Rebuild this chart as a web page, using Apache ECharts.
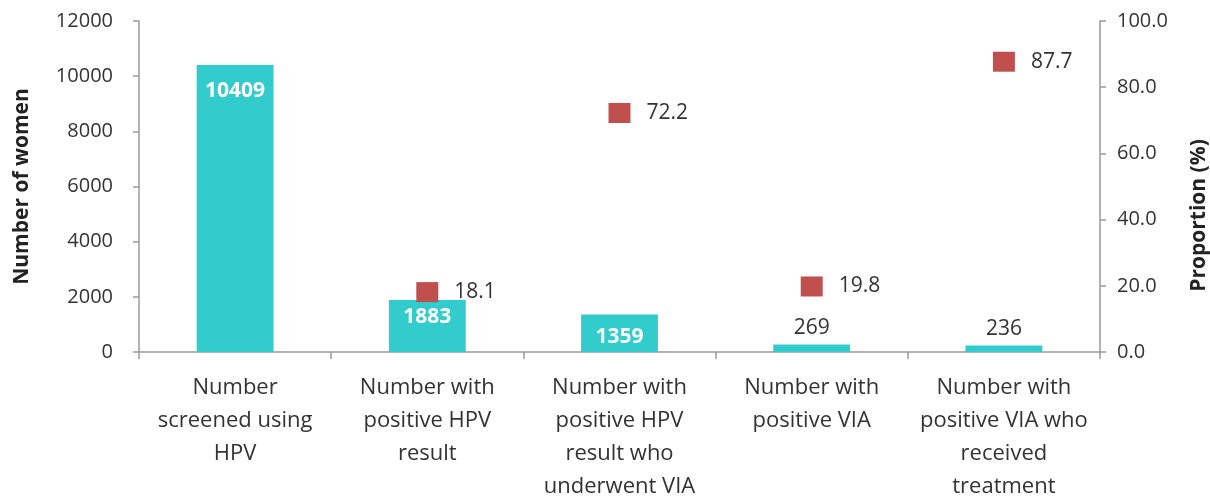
<!DOCTYPE html>
<html>
<head>
<meta charset="utf-8">
<script src="https://cdn.jsdelivr.net/npm/echarts@6/dist/echarts.min.js"></script>
<style>
  html, body { margin: 0; padding: 0; background: #fff; }
  #chart { width: 1210px; height: 499px; }
</style>
</head>
<body>
<div id="chart"></div>
<script>
// 类目
const categories = [
  'Number\nscreened using\nHPV',
  'Number with\npositive HPV\nresult',
  'Number with\npositive HPV\nresult who\nunderwent VIA',
  'Number with\npositive VIA',
  'Number with\npositive VIA who\nreceived\ntreatment'
]
// 人数（柱）
const womenCounts = [10409, 1883, 1359, 269, 236]
// 比例（方块点），第一个类目没有
const proportions = [null, 18.1, 72.2, 19.8, 87.7]

const barColor = '#33CCCC'
const pointColor = '#C0504D'
const fontFamily = '"Open Sans", "Noto Sans", sans-serif'
const axisColor = '#9a9a9a'
const textColor = '#333'
// 柱子标签离柱顶的距离
const barLabelGaps = [16, 6, 12, 6, 6]

const chart = echarts.init(document.getElementById('chart'))

// 大柱子标签放在里面，小柱子放在上面
const barData = womenCounts.map((v, i) => {
  const inside = v > 1000
  return {
    value: v,
    label: inside
      ? { position: 'insideTop', color: '#fff', fontWeight: 'bold', distance: barLabelGaps[i] }
      : { position: 'top', color: textColor, fontWeight: 'normal', distance: barLabelGaps[i] }
  }
})

const options = {
  animation: false,
  textStyle: { fontFamily: fontFamily },
  grid: {
    left: 139,
    right: 110,
    top: 21,
    bottom: 147,
    outerBoundsMode: 'none',
    containLabel: false
  },
  xAxis: {
    type: 'category',
    data: categories,
    boundaryGap: true,
    axisLine: { show: true, lineStyle: { color: axisColor, width: 1.5 } },
    axisTick: { show: true, length: 7, lineStyle: { color: axisColor, width: 1.5 } },
    axisLabel: {
      interval: 0,
      color: textColor,
      fontSize: 22,
      lineHeight: 33,
      margin: 19,
      fontFamily: fontFamily
    }
  },
  yAxis: [
    {
      type: 'value',
      min: 0,
      max: 12000,
      interval: 2000,
      name: 'Number of women',
      nameLocation: 'middle',
      nameGap: 106,
      nameRotate: 90,
      nameTextStyle: { fontSize: 21, fontWeight: 'bold', color: '#222', fontFamily: fontFamily },
      axisLine: { show: true, lineStyle: { color: axisColor, width: 1.5 } },
      axisTick: { show: true, length: 6, lineStyle: { color: axisColor, width: 1.5 } },
      axisLabel: {
        color: textColor,
        fontSize: 20,
        margin: 26,
        fontFamily: fontFamily,
        formatter: (v) => String(v)
      },
      splitLine: { show: false }
    },
    {
      type: 'value',
      min: 0,
      max: 100,
      interval: 20,
      position: 'right',
      name: 'Proportion (%)',
      nameLocation: 'middle',
      nameGap: 89,
      nameRotate: 90,
      nameTextStyle: {
        fontSize: 21,
        fontWeight: 'bold',
        color: '#222',
        fontFamily: fontFamily,
        padding: [0, 58, 0, 0]
      },
      axisLine: { show: true, lineStyle: { color: axisColor, width: 1.5 } },
      axisTick: { show: true, length: 6, lineStyle: { color: axisColor, width: 1.5 } },
      axisLabel: {
        color: textColor,
        fontSize: 20,
        margin: 17,
        fontFamily: fontFamily,
        formatter: (v) => v.toFixed(1)
      },
      splitLine: { show: false }
    }
  ],
  series: [
    {
      type: 'bar',
      name: 'Number of women',
      yAxisIndex: 0,
      barWidth: '40%',
      itemStyle: { color: barColor },
      label: { show: true, fontSize: 21, fontFamily: fontFamily },
      data: barData
    },
    {
      type: 'scatter',
      name: 'Proportion (%)',
      yAxisIndex: 1,
      symbol: 'rect',
      symbolSize: [22, 20],
      itemStyle: { color: pointColor, opacity: 1 },
      label: {
        show: true,
        position: 'right',
        distance: 16,
        color: textColor,
        fontSize: 21,
        fontFamily: fontFamily,
        formatter: (p) => Number(p.value).toFixed(1)
      },
      data: proportions.map((v) => (v === null ? '-' : v))
    }
  ]
}

options && chart.setOption(options, true)
</script>
</body>
</html>
